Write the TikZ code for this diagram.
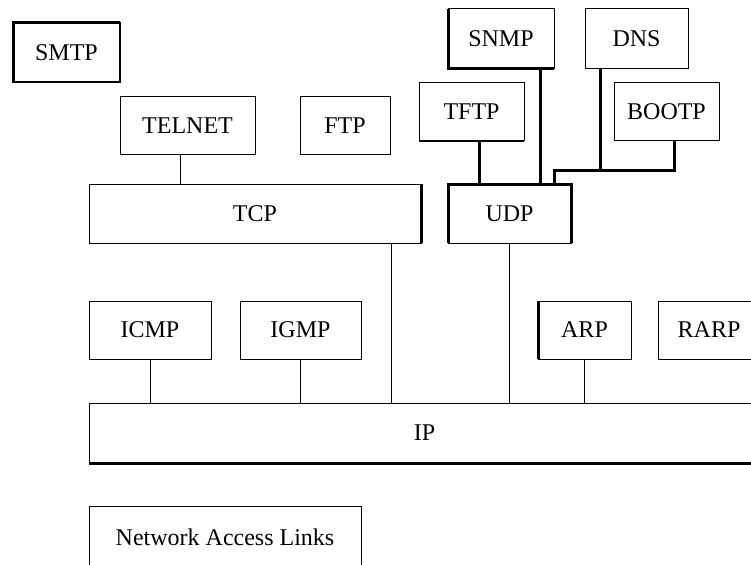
\documentclass[tikz,border=0pt]{standalone}
\usepackage{fontspec}
\setmainfont{Liberation Serif}
\usepackage{tikz}
\usetikzlibrary{calc,positioning}

\tikzset{
  box/.style={draw,line width=1pt,inner sep=0pt,outer sep=0pt,font=\fontsize{24}{27}\selectfont},
  link/.style={line width=1pt},
  heavy/.style={line width=3pt},
}

\begin{document}
\begin{tikzpicture}[x=1pt,y=-1pt]
\useasboundingbox (0,0) rectangle (751,564);
\clip (0,0) rectangle (751,564);

% application layer
\node (smtp) at (66.5,52.5) [box,line width=2pt,minimum width=107pt,minimum height=59pt] {SMTP};
\node (telnet) at (187.5,126) [box,minimum width=135pt,minimum height=58pt] {TELNET};
\node (ftp) at (345,126) [box,minimum width=90pt,minimum height=58pt] {FTP};
\node (snmp) at (501,39) [box,minimum width=106pt,minimum height=60pt] {SNMP};
\node (dns) at (636.5,39) [box,minimum width=103pt,minimum height=60pt] {DNS};
\node (tftp) at (471.5,112) [box,minimum width=105pt,minimum height=58pt] {TFTP};
\node (bootp) at (666.5,112) [box,minimum width=105pt,minimum height=58pt] {BOOTP};

% transport layer
\node (tcp) at (255,213.5) [box,minimum width=332pt,minimum height=59pt] {TCP};
\node (udp) at (509.5,213.5) [box,minimum width=123pt,minimum height=59pt] {UDP};

% internet layer
\node (icmp) at (150,330) [box,minimum width=122pt,minimum height=58pt] {ICMP};
\node (igmp) at (300.5,330) [box,minimum width=121pt,minimum height=58pt] {IGMP};
\node (arp) at (584.5,330) [box,minimum width=93pt,minimum height=58pt] {ARP};
\node (rarp) at (709,330) [box,minimum width=102pt,minimum height=58pt] {RARP};
\node (ip) at (424.5,433) [box,minimum width=671pt,minimum height=60pt] {IP};

\node (nal) at (225,537) [box,minimum width=272pt,minimum height=62pt] {Network Access Links};

% heavy edges
\draw[heavy] (smtp.south west) -- (smtp.north west) -- (smtp.north east);
\draw[heavy] (tcp.north east) -- (tcp.south east);
\draw[heavy] (snmp.north west) -- (snmp.south west) -- (snmp.south east);
\draw[line width=2pt] (tftp.south west) -- (tftp.south east);
\draw[heavy] (udp.south west) -- (udp.north west) -- (udp.north east) -- (udp.south east);
\draw[heavy] (arp.north west) -- (arp.south west);
\draw[heavy] (ip.south west) -- (ip.south east);

% links to TCP and UDP
\draw[link] ([xshift=-7.5pt]telnet.south) -- ([xshift=-7.5pt]telnet.south |- tcp.north);
\draw[heavy] ([xshift=7.5pt]tftp.south) -- ([xshift=7.5pt]tftp.south |- udp.north);
\draw[heavy] ([xshift=39pt]snmp.south) -- ([xshift=39pt]snmp.south |- udp.north);
\coordinate (ubus) at (554,170);
\draw[heavy] ([xshift=7.5pt]bootp.south) |- (ubus) -- (ubus |- udp.north);
\draw[heavy] ([xshift=-36.5pt]dns.south) -- ([xshift=-36.5pt]dns.south |- ubus);

% links to IP
\draw[link] ([xshift=-30pt]tcp.south east) -- ([xshift=-30pt]tcp.south east |- ip.north);
\draw[link] (udp.south) -- (udp.south |- ip.north);
\draw[link] (icmp.south) -- (icmp.south |- ip.north);
\draw[link] (igmp.south) -- (igmp.south |- ip.north);
\draw[link] (arp.south) -- (arp.south |- ip.north);
\end{tikzpicture}
\end{document}
